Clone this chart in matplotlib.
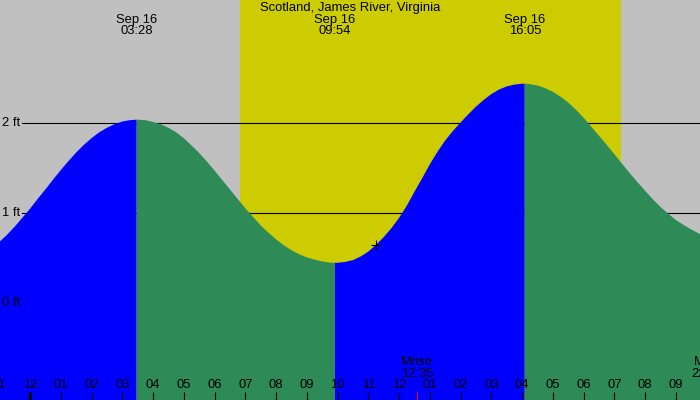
import matplotlib

matplotlib.use("Agg")
import matplotlib.pyplot as plt  # noqa: E402
import numpy as np  # noqa: E402

plt.rcParams["font.family"] = ["Liberation Sans", "DejaVu Sans"]
plt.rcParams["font.size"] = 9.4

TITLE = "Scotland, James River, Virginia"
DATE = "Sep 16"

# high / low water, Sep 16
extreme_times = ["03:28", "09:54", "16:05"]
extreme_levels = [2.04, 0.45, 2.44]

sample_hours = np.arange(-1.0, 22.001, 0.25)
sample_levels = [
    0.68, 0.76, 0.85, 0.95,       # 23h (Sep 15)
    1.05, 1.16, 1.265, 1.375,     # 00h
    1.48, 1.58, 1.675, 1.76,      # 01h
    1.835, 1.90, 1.95, 1.99,      # 02h
    2.02, 2.035, 2.04, 2.035,     # 03h
    2.015, 1.99, 1.95, 1.90,      # 04h
    1.835, 1.755, 1.67, 1.575,    # 05h
    1.475, 1.37, 1.265, 1.16,     # 06h
    1.055, 0.96, 0.865, 0.785,    # 07h
    0.71, 0.645, 0.59, 0.545,     # 08h
    0.51, 0.485, 0.465, 0.452,    # 09h
    0.45, 0.46, 0.48, 0.52,       # 10h
    0.575, 0.65, 0.735, 0.835,    # 11h
    0.95, 1.085, 1.24, 1.39,      # 12h
    1.545, 1.685, 1.81, 1.915,    # 13h
    2.01, 2.10, 2.185, 2.26,      # 14h
    2.325, 2.375, 2.41, 2.43,     # 15h
    2.44, 2.435, 2.42, 2.39,      # 16h
    2.35, 2.295, 2.23, 2.15,      # 17h
    2.06, 1.96, 1.86, 1.76,       # 18h
    1.655, 1.55, 1.445, 1.345,    # 19h
    1.25, 1.155, 1.07, 0.995,     # 20h
    0.925, 0.87, 0.82, 0.775,     # 21h
    0.73,                         # 22h
]

sunrise, sunset = "06:50", "19:13"
moonrise, moonset = "12:35", "22:02"
now_time, now_level = "11:15", 0.65

ft_labels = [0, 1, 2]
hour_ticks = list(range(-1, 23))

NIGHT = "#c0c0c0"
DAY = "#cccc00"
RISING = "#0000ff"
FALLING = "#2e8b57"


def hours(s):
    h, m = s.split(":")
    return int(h) + int(m) / 60.0


def main():
    px_hour = 30.76  # pixels per hour
    px_ft = 90.0
    fig = plt.figure(figsize=(7, 4), dpi=100)
    fig.patch.set_facecolor(NIGHT)
    ax = fig.add_axes([0, 0, 1, 1])
    ax.axis("off")
    x0 = -30 / px_hour
    ax.set_xlim(x0, x0 + 700 / px_hour)
    ax.set_ylim((303.3 - 400) / px_ft, 303.3 / px_ft)

    ax.axvspan(hours(sunrise), hours(sunset), color=DAY, lw=0, zorder=0)

    for lv in ft_labels[1:]:
        ax.axhline(lv, xmin=22 / 700, color="black", lw=0.8, zorder=1)

    ext_h = [hours(s) for s in extreme_times]
    t = np.concatenate([sample_hours, ext_h])
    lv = np.concatenate([sample_levels, extreme_levels])
    order = np.argsort(t, kind="stable")
    t, lv = t[order], lv[order]

    rising = (t <= ext_h[0]) | ((t >= ext_h[1]) & (t <= ext_h[2]))
    falling = ((t >= ext_h[0]) & (t <= ext_h[1])) | (t >= ext_h[2])
    ax.fill_between(t, lv, -5, where=rising, color=RISING, lw=0, zorder=2)
    ax.fill_between(t, lv, -5, where=falling, color=FALLING, lw=0, zorder=2)

    ax.plot([hours(now_time)], [now_level], marker="+", ms=7, mew=0.8,
            color="black", zorder=5)

    for v in ft_labels:
        ax.text(x0 + 2 / px_hour, v, f"{v} ft", ha="left", va="center", zorder=6)

    xt = ax.get_xaxis_transform()
    for h in hour_ticks:
        lab = f"{(h % 12) or 12:02d}"
        ax.text(h, 1 - 385.5 / 400, lab, transform=xt, ha="center", va="center",
                zorder=6)
        ax.vlines(h, 0, 8 / 400, transform=xt, color="black",
                  lw=2.2 if h == 0 else 0.8, zorder=6)

    for name, tm in [("Mrise", moonrise), ("Mset", moonset)]:
        x = hours(tm)
        ax.vlines(x, 0, 8 / 400, transform=xt, color="red", lw=0.8, zorder=6)
        ax.text(x, 1 - 362 / 400, name, transform=xt, ha="center", va="center")
        ax.text(x, 1 - 374 / 400, tm, transform=xt, ha="center", va="center")

    ax.text(0.5, 1 - 7.7 / 400, TITLE, transform=ax.transAxes, ha="center",
            va="center")
    for tm in extreme_times:
        x = hours(tm)
        ax.text(x, 1 - 20 / 400, DATE, transform=xt, ha="center", va="center")
        ax.text(x, 1 - 31.5 / 400, tm, transform=xt, ha="center", va="center")

    fig.savefig("out.png", dpi=100, facecolor=NIGHT)
    plt.close(fig)


if __name__ == "__main__":
    main()
